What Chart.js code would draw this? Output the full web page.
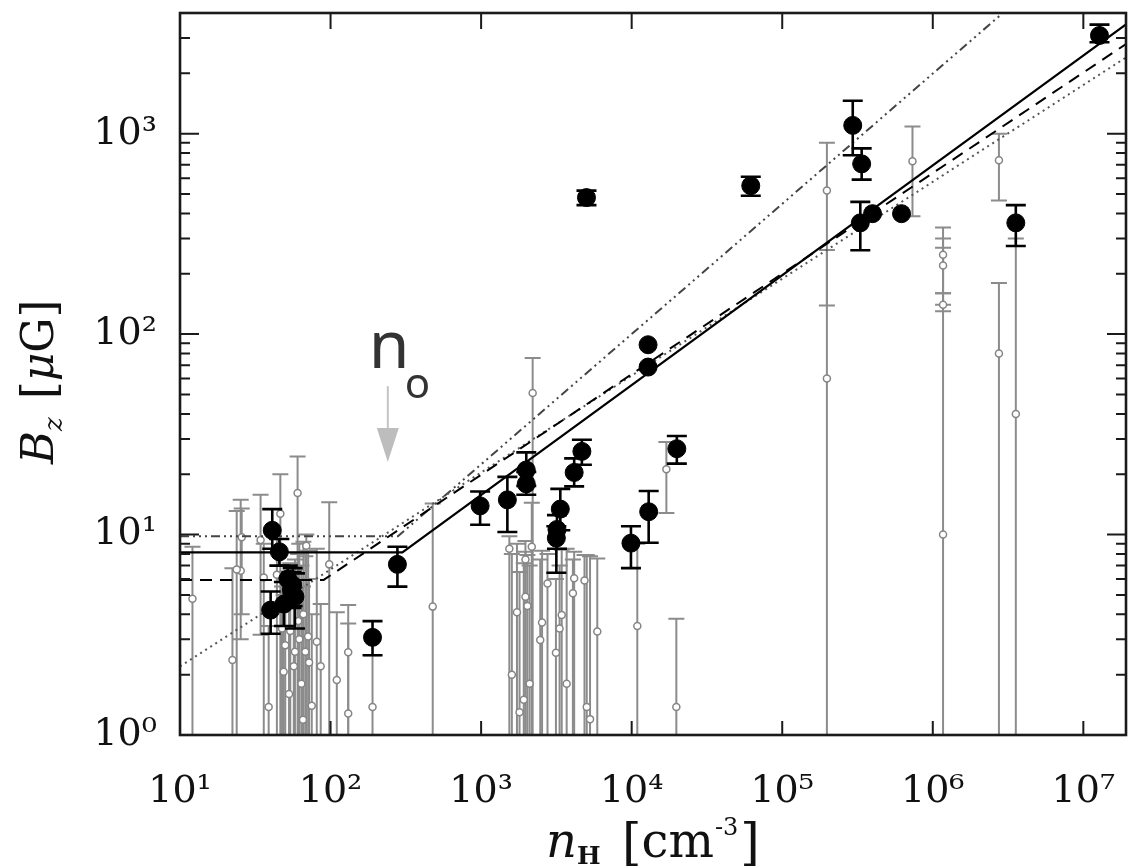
<!DOCTYPE html>
<html>
<head>
<meta charset="utf-8">
<script src="https://cdn.jsdelivr.net/npm/chart.js@4.4.1/dist/chart.umd.min.js"></script>
<style>
  html, body { margin: 0; padding: 0; background: #fff; overflow: hidden; }
  canvas { display: block; }
</style>
</head>
<body>
<canvas id="bzChart" width="1136" height="868"></canvas>
<script>
// axis ticks
const xTickVals = [1e1, 1e2, 1e3, 1e4, 1e5, 1e6, 1e7];
const yTickVals = [1, 10, 100, 1000];
const sup = { '0': '⁰', '1': '¹', '2': '²', '3': '³', '4': '⁴', '5': '⁵', '6': '⁶', '7': '⁷' };

// Zeeman detections (black)
const detN  = [41, 45.7, 40, 52, 55, 49, 58, 56, 278, 190, 985, 1494, 1995, 1995, 4670, 4150, 3357, 3190, 3160, 9890, 12970, 19950, 12850, 12850, 5010, 61800, 294000, 337000, 330000, 398000, 620000, 3.56e6, 1.28e7];
const detB  = [10.5, 8.2, 4.2, 6.0, 5.3, 4.5, 4.9, 5.6, 7.1, 3.07, 13.9, 14.9, 21, 17.9, 26, 20.4, 13.4, 10.6, 9.6, 9.06, 13.0, 26.8, 88.5, 68.5, 480, 550, 1100, 707, 359, 399, 399, 359, 3090];
const detLo = [8.5, 7.0, 3.2, 4.8, 4.3, 3.5, 3.4, 4.4, 5.5, 2.5, 11.2, 10.3, 17.5, 15.8, 22.3, 17.4, 10.5, 8.5, 6.45, 6.8, 9.1, 22.6, 88.5, 68.5, 440, 490, 780, 590, 262, 399, 399, 275, 2860];
const detHi = [13.4, 9.5, 5.2, 7.0, 6.5, 5.8, 6.4, 6.8, 8.7, 3.7, 16.4, 19.4, 25.7, 20.5, 29.7, 24, 16.9, 12.5, 11, 11.0, 16.5, 31, 88.5, 68.5, 520, 610, 1460, 845, 457, 399, 399, 440, 3500];

// non-detections / low-significance points (gray)
const ndN  = [12.1, 22.3, 25.3, 23.8, 25.7, 34.3, 46.4, 60.4, 38.8, 48.8, 65.6, 98, 110, 131, 131, 190, 477,
              47.6, 81, 69, 62, 72, 58, 66, 53, 44, 36, 75, 86, 50, 54, 57, 61, 64, 68, 71,
              1540, 2170, 1970, 1730, 2760, 2540, 2470, 3430, 3320, 3140, 4150, 4860, 4070, 5910, 5030, 5290, 2100, 1920, 1970, 2030, 1600, 1800, 3700,
              2200, 17000, 10900, 19800,
              198000, 198000, 733000, 1.17e6, 1.17e6, 1.17e6, 1.17e6, 2.75e6, 2.75e6, 3.56e6];
const ndB  = [4.78, 2.37, 6.6, 6.7, 9.7, 9.4, 12.7, 16.1, 1.38, 2.07, 1.19, 7.1, 1.88, 2.59, 1.28, 1.38, 4.37,
              3.4, 2.92, 8.8, 3.0, 2.3, 2.6, 4.0, 1.6, 6.3, 6.1, 1.4, 2.2, 2.8, 3.3, 2.2, 3.7, 1.8, 2.6, 3.1,
              8.5, 8.7, 7.5, 4.1, 5.7, 3.64, 2.98, 3.97, 3.4, 2.57, 6.06, 5.9, 5.1, 3.28, 1.38, 1.2, 1.8, 1.5, 4.9, 4.4, 2.0, 1.3, 1.8,
              50.8, 21.2, 3.5, 1.38,
              520, 60, 728, 249, 220, 140, 10, 737, 80, 40];
const ndLo = [0.5, 0.5, 3.0, 0.5, 4.0, 3.16, 0.5, 0.5, 0.5, 0.5, 0.5, 0.5, 0.5, 0.5, 0.5, 0.5, 0.5,
              0.5, 0.5, 0.5, 0.5, 0.5, 0.5, 0.5, 0.5, 0.5, 0.5, 0.5, 0.5, 0.5, 0.5, 0.5, 0.5, 0.5, 0.5, 0.5,
              0.5, 0.5, 0.5, 0.5, 0.5, 0.5, 0.5, 0.5, 0.5, 0.5, 0.5, 0.5, 0.5, 0.5, 0.5, 0.5, 0.5, 0.5, 0.5, 0.5, 0.5, 0.5, 0.5,
              0.5, 12.8, 0.5, 0.5,
              139, 0.5, 387, 160, 140, 130, 0.5, 464, 0.5, 0.5];
const ndHi = [8.7, 6.8, 14.9, 13.1, 13.5, 15.8, 20, 24.5, 3.5, 5.0, 5.5, 14.5, 4.1, 4.45, 3.6, 2.5, 14.3,
              5.5, 8.5, 10, 9, 6, 7.5, 9.2, 5.0, 9.5, 9.0, 4, 4.5, 6.5, 7.2, 6.8, 8.0, 7.0, 7.8, 8.3,
              9.8, 14.4, 9.3, 9.0, 8.0, 8.3, 7.5, 8.4, 7.0, 6.0, 8.2, 7.9, 7.5, 7.6, 7.9, 7.8, 7.0, 7.2, 8.2, 7.9, 8.0, 6.5, 8.5,
              76, 29, 9, 3.8,
              900, 263, 1085, 340, 300, 270, 160, 1000, 180, 300];

// model curves
const solidN = [10, 300, 1.92e7],  solidB = [8.15, 8.15, 3510];
const dashN  = [10, 90, 1.92e7],   dashB  = [5.94, 5.94, 2800];
const dotN   = [10, 1.92e7],       dotB   = [2.2, 2400];
const ddotN  = [10, 280, 1.92e7],  ddotB  = [9.8, 9.8, 13600];

const n0Arrow = 240;

const pts = (xs, ys) => xs.map((v, i) => ({ x: v, y: ys[i] }));

const errorBars = {
  id: 'errorBars',
  beforeDatasetDraw(chart, args) {
    const ds = chart.data.datasets[args.index];
    if (!ds.errLo) return;
    const { ctx, chartArea: a, scales: { x, y } } = chart;
    ctx.save();
    ctx.beginPath();
    ctx.rect(a.left, a.top, a.right - a.left, a.bottom - a.top);
    ctx.clip();
    ctx.strokeStyle = ds.barColor;
    ctx.lineWidth = ds.barWidth;
    ds.data.forEach((p, i) => {
      const lo = ds.errLo[i], hi = ds.errHi[i];
      if (lo === hi) return;
      const px = x.getPixelForValue(p.x);
      const y1 = y.getPixelForValue(lo), y2 = y.getPixelForValue(hi);
      const c = ds.capHalf;
      ctx.beginPath();
      ctx.moveTo(px, y1); ctx.lineTo(px, y2);
      ctx.moveTo(px - c, y2); ctx.lineTo(px + c, y2);
      ctx.moveTo(px - c, y1); ctx.lineTo(px + c, y1);
      ctx.stroke();
    });
    ctx.restore();
  }
};

const frame = {
  id: 'frame',
  afterDatasetsDraw(chart) {
    const { ctx, chartArea: a, scales: { x, y } } = chart;
    ctx.save();
    ctx.strokeStyle = '#1a1a1a';
    ctx.lineWidth = 2;
    ctx.beginPath();
    xTickVals.forEach(v => {
      const px = x.getPixelForValue(v);
      ctx.moveTo(px, a.bottom); ctx.lineTo(px, a.bottom - 14);
      ctx.moveTo(px, a.top); ctx.lineTo(px, a.top + 16);
    });
    for (let d = 1; d <= 1000; d *= 10) {
      for (let m = 1; m <= 9; m++) {
        const v = d * m;
        if (v > 4000) break;
        const py = y.getPixelForValue(v);
        const len = m === 1 ? 19 : 10;
        ctx.moveTo(a.left, py); ctx.lineTo(a.left + len, py);
        ctx.moveTo(a.right, py); ctx.lineTo(a.right - len, py);
      }
    }
    ctx.stroke();
    ctx.lineWidth = 2.6;
    ctx.strokeRect(a.left, a.top, a.right - a.left, a.bottom - a.top);
    ctx.restore();
  },
  afterDraw(chart) {
    const { ctx, scales: { x, y } } = chart;
    ctx.save();
    ctx.fillStyle = '#111';
    ctx.textBaseline = 'alphabetic';
    // x title: n_H [cm^-3]
    const by = 857;
    ctx.font = 'italic 48px "DejaVu Serif"';
    ctx.fillText('n', 546, by);
    ctx.font = 'bold 25px "DejaVu Serif"';
    ctx.fillText('H', 577, by + 7);
    let cx = 622;
    ctx.font = '50px "DejaVu Serif"';
    ctx.fillText('[', cx, by + 2); cx += ctx.measureText('[').width;
    ctx.font = '48px "DejaVu Serif"';
    ctx.fillText('cm', cx, by); cx += ctx.measureText('cm').width;
    ctx.font = '24px "DejaVu Serif"';
    ctx.fillText('-3', cx + 1, by - 22); cx += ctx.measureText('-3').width + 3;
    ctx.font = '50px "DejaVu Serif"';
    ctx.fillText(']', cx, by + 2);

    // y title: B_z [muG], rotated
    ctx.translate(53, 464);
    ctx.rotate(-Math.PI / 2);
    let tx = 0;
    ctx.font = 'italic 45px "DejaVu Serif"';
    ctx.fillText('B', tx, 0); tx += ctx.measureText('B').width;
    ctx.font = 'italic 26px "DejaVu Serif"';
    ctx.fillText('z', tx, 9); tx += ctx.measureText('z').width + 18;
    ctx.font = '46px "DejaVu Serif"';
    ctx.fillText('[', tx, 2); tx += ctx.measureText('[').width;
    ctx.font = 'italic 44px "DejaVu Serif"';
    ctx.fillText('μ', tx, 0); tx += ctx.measureText('μ').width;
    ctx.font = '44px "DejaVu Serif"';
    ctx.fillText('G', tx, 0); tx += ctx.measureText('G').width;
    ctx.font = '46px "DejaVu Serif"';
    ctx.fillText(']', tx, 2);
    ctx.setTransform(1, 0, 0, 1, 0, 0);

    // n_o annotation with arrow
    const ax = x.getPixelForValue(n0Arrow);
    const yTop = y.getPixelForValue(55), yTip = y.getPixelForValue(23);
    ctx.strokeStyle = '#c4c4c4';
    ctx.lineWidth = 2;
    ctx.beginPath(); ctx.moveTo(ax, yTop); ctx.lineTo(ax, yTip - 30); ctx.stroke();
    ctx.fillStyle = '#bdbdbd';
    ctx.beginPath();
    ctx.moveTo(ax - 11, yTip - 34); ctx.lineTo(ax + 11, yTip - 34); ctx.lineTo(ax, yTip);
    ctx.closePath(); ctx.fill();
    ctx.fillStyle = '#333';
    ctx.font = '66px "Noto Sans"';
    ctx.fillText('n', ax - 19, 368);
    ctx.font = '42px "Noto Sans"';
    ctx.fillText('o', ax + 17, 398);
    ctx.restore();
  }
};

const supLabel = v => '10' + String(Math.round(Math.log10(v))).split('').map(c => sup[c]).join('');

new Chart(document.getElementById('bzChart'), {
  type: 'scatter',
  data: {
    datasets: [
      { label: 'detections', data: pts(detN, detB), errLo: detLo, errHi: detHi,
        barColor: '#000', barWidth: 2.6, capHalf: 10,
        pointRadius: 9, pointBackgroundColor: '#000', pointBorderColor: '#000', pointBorderWidth: 1 },
      { label: 'fit', type: 'line', data: pts(solidN, solidB), borderColor: '#000', borderWidth: 2.2,
        pointRadius: 0, fill: false, tension: 0, clip: 0 },
      { label: 'dashed', type: 'line', data: pts(dashN, dashB), borderColor: '#000', borderWidth: 2,
        borderDash: [12, 8], pointRadius: 0, fill: false, tension: 0, clip: 0 },
      { label: 'dotted', type: 'line', data: pts(dotN, dotB), borderColor: '#555', borderWidth: 2,
        borderDash: [2, 4], pointRadius: 0, fill: false, tension: 0, clip: 0 },
      { label: 'dash-dot', type: 'line', data: pts(ddotN, ddotB), borderColor: '#444', borderWidth: 2,
        borderDash: [9, 4, 2, 4, 2, 4, 2, 4], pointRadius: 0, fill: false, tension: 0, clip: 0 },
      { label: 'upper limits', data: pts(ndN, ndB), errLo: ndLo, errHi: ndHi,
        barColor: '#8c8c8c', barWidth: 2, capHalf: 8,
        pointRadius: 3.5, pointBackgroundColor: '#fff', pointBorderColor: '#858585', pointBorderWidth: 1.5 }
    ]
  },
  options: {
    responsive: false,
    animation: false,
    devicePixelRatio: 1,
    layout: { padding: { top: 13, right: 5, left: 0, bottom: 0 } },
    plugins: { legend: { display: false }, tooltip: { enabled: false } },
    scales: {
      x: {
        type: 'logarithmic', min: 10, max: 1.92e7,
        afterFit: s => { s.height = 133; s.paddingLeft = 0; s.paddingRight = 0; },
        afterBuildTicks: s => { s.ticks = xTickVals.map(v => ({ value: v })); },
        grid: { display: false }, border: { display: false },
        ticks: { callback: v => supLabel(v), color: '#111', padding: 26, maxRotation: 0, autoSkip: false,
                 font: { family: '"DejaVu Serif"', size: 38 } }
      },
      y: {
        type: 'logarithmic', min: 1, max: 4000,
        afterFit: s => { s.width = 180; s.paddingTop = 0; s.paddingBottom = 0; },
        afterBuildTicks: s => { s.ticks = yTickVals.map(v => ({ value: v })); },
        grid: { display: false }, border: { display: false },
        ticks: { callback: v => supLabel(v), color: '#111', padding: 15, autoSkip: false,
                 font: { family: '"DejaVu Serif"', size: 38 } }
      }
    }
  },
  plugins: [errorBars, frame]
});
</script>
</body>
</html>
